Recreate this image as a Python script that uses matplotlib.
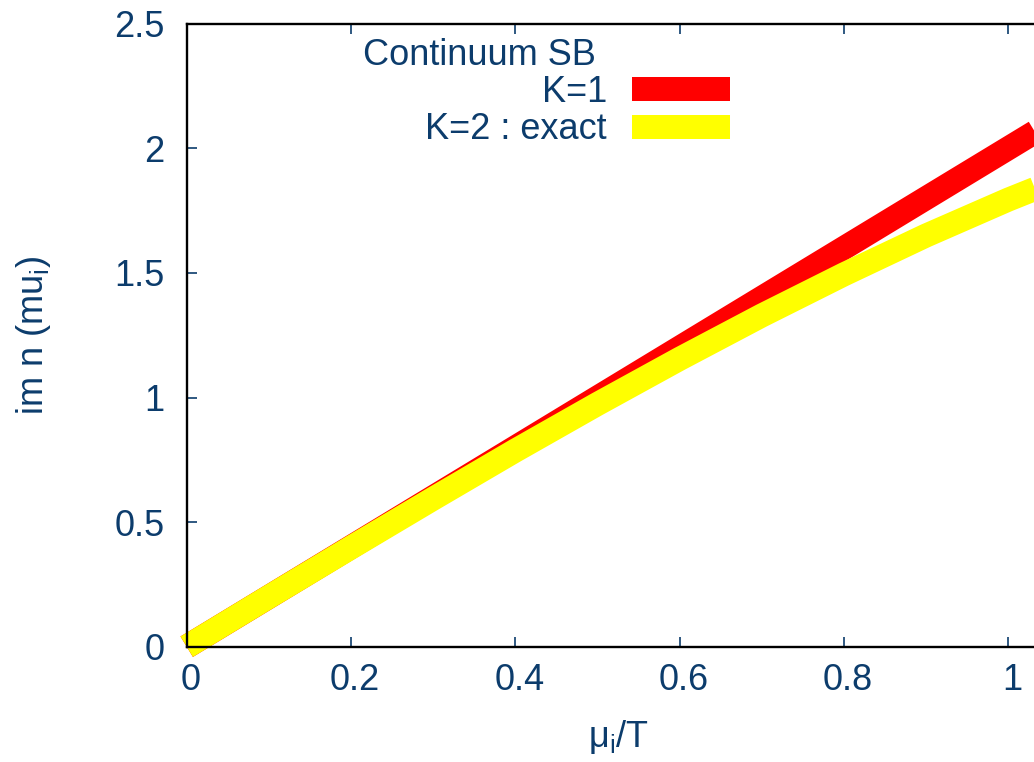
import matplotlib
matplotlib.use("Agg")
import matplotlib.pyplot as plt
from matplotlib.lines import Line2D
from matplotlib.transforms import ScaledTranslation

# data
mu_over_T = [0.0, 0.1, 0.2, 0.3, 0.4, 0.5, 0.6, 0.7, 0.8, 0.9, 1.0, 1.05]
k1 = [0.0, 0.2, 0.4, 0.6, 0.8, 1.0, 1.2, 1.4, 1.6, 1.8, 2.0, 2.1]
k2_exact = [0.0, 0.2, 0.398, 0.594, 0.787, 0.974, 1.155, 1.329, 1.494, 1.65, 1.794, 1.86]

series_labels = ["K=1", "K=2 : exact"]
series_colors = ["#ff0000", "#ffff00"]
legend_title = "Continuum SB"

x_ticks = [0, 0.2, 0.4, 0.6, 0.8, 1.0]
x_ticklabels = ["0", "0.2", "0.4", "0.6", "0.8", "1"]
y_ticks = [0, 0.5, 1.0, 1.5, 2.0, 2.5]
y_ticklabels = ["0", "0.5", "1", "1.5", "2", "2.5"]

TEXT = "#0c3c6c"
W, H = 1034, 762
LW = 24 * 72 / 100  # 24 px wide strokes

plt.rcParams["font.family"] = ["Liberation Sans", "DejaVu Sans"]
plt.rcParams["font.size"] = 26
plt.rcParams["mathtext.fontset"] = "custom"
plt.rcParams["mathtext.rm"] = "Liberation Sans"
plt.rcParams["mathtext.it"] = "Liberation Sans:italic"

fig = plt.figure(figsize=(W / 100, H / 100), dpi=100)
# axes runs past the right edge of the picture, as in the reference crop
x0, y0, y1 = 186.7, 646.7, 23.7
ax = fig.add_axes([x0 / W, 1 - y0 / H, 1.05 * 821.5 / W, (y0 - y1) / H])

for ys, col in zip([k1, k2_exact], series_colors):
    ax.plot(mu_over_T, ys, color=col, lw=LW, solid_capstyle="butt",
            solid_joinstyle="miter", clip_on=False)

ax.set_xlim(0, 1.05)
ax.set_ylim(0, 2.5)
ax.set_xticks(x_ticks)
ax.set_xticklabels(x_ticklabels)
ax.set_yticks(y_ticks)
ax.set_yticklabels(y_ticklabels)
ax.tick_params(direction="in", length=7, width=1.2, color=TEXT, labelcolor=TEXT,
               top=True, right=True)
ax.tick_params(axis="x", pad=12)
ax.tick_params(axis="y", pad=16)
for lab in ax.get_xticklabels():
    lab.set_transform(lab.get_transform() + ScaledTranslation(4 / 100, 0, fig.dpi_scale_trans))
for sp in ax.spines.values():
    sp.set_linewidth(1.7)
    sp.set_color("black")

ax.set_xlabel("μ$_{\\mathregular{i}}$/T", color=TEXT, va="center")
ax.xaxis.set_label_coords(0.5, -0.145)
ax.set_ylabel("im n (mu$_{\\mathregular{i}}$)", color=TEXT, va="center")
ax.yaxis.set_label_coords(-0.1776, 0.5)

# legend, gnuplot style: title, right-aligned labels, keys on the right
fig.text(363 / W, 1 - 65 / H, legend_title, color=TEXT, ha="left", va="baseline")
for i, (lab, col) in enumerate(zip(series_labels, series_colors)):
    base = 101.7 + 37.4 * i
    mid = 89.3 + 37.4 * i
    fig.text(607 / W, 1 - base / H, lab, color=TEXT, ha="right", va="baseline")
    fig.add_artist(Line2D([632 / W, 730 / W], [1 - mid / H, 1 - mid / H],
                          transform=fig.transFigure, color=col, lw=LW,
                          solid_capstyle="butt"))

fig.savefig("out.png", dpi=100)
